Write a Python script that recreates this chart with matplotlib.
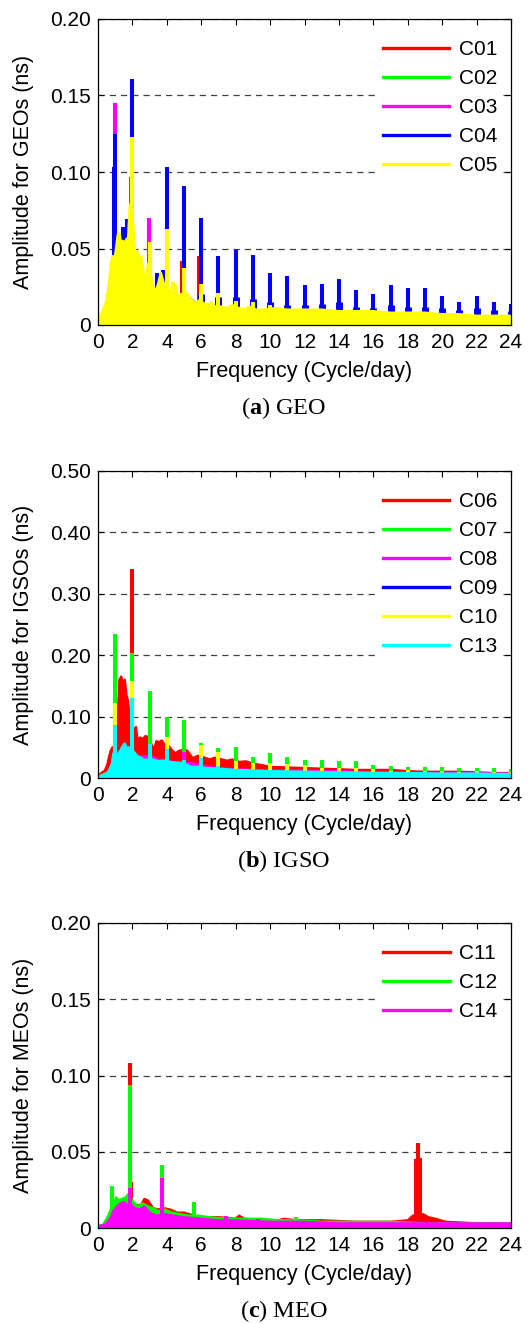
import numpy as np
import matplotlib
matplotlib.use("Agg")
import matplotlib.pyplot as plt
from matplotlib.lines import Line2D
from matplotlib.ticker import FuncFormatter

plt.rcParams['font.family'] = ['Liberation Sans', 'DejaVu Sans']
plt.rcParams['mathtext.fontset'] = 'custom'
plt.rcParams['mathtext.rm'] = 'Liberation Serif'
plt.rcParams['mathtext.bf'] = 'Liberation Serif:bold'

RED, GREEN, MAGENTA = '#ff0000', '#00ff00', '#ff00ff'
BLUE, YELLOW, CYAN = '#0000ff', '#ffff00', '#00ffff'

harm = [1, 2, 3, 4, 5, 6, 7, 8, 9, 10, 11, 12, 13, 14, 15, 16, 17, 18, 19, 20, 21, 22, 23, 24]

# ---------------- GEO (C01-C05) ----------------
# background (dense noise envelope) as (freq, amp); spikes as separate lists
c01_bg = [(0, 0.001), (0.5, 0.002), (1, 0.003), (2, 0.004), (3, 0.003), (5, 0.003),
          (8, 0.002), (12, 0.002), (16, 0.002), (20, 0.002), (24, 0.002)]
c01_pk_f = [4.88, 5.88]
c01_pk_a = [0.042, 0.045]

c02_bg = [(0, 0.001), (1, 0.002), (2, 0.003), (4, 0.002), (8, 0.002), (16, 0.001), (24, 0.001)]
c02_pk_f = [1.9, 2.0]
c02_pk_a = [0.007, 0.008]

c03_bg = [(0, 0.001), (0.5, 0.002), (1, 0.004), (2, 0.004), (3, 0.004), (4, 0.003),
          (6, 0.003), (10, 0.002), (16, 0.002), (24, 0.002)]
c03_pk_f = [0.98, 1.93, 2.95]
c03_pk_a = [0.145, 0.097, 0.070]

c04_bg = [(0, 0.002), (0.3, 0.006), (0.6, 0.015), (0.8, 0.022), (1.2, 0.035), (1.6, 0.045),
          (2.2, 0.040), (2.6, 0.030), (3.2, 0.024), (3.6, 0.020), (4.3, 0.022), (4.7, 0.016),
          (5.3, 0.018), (5.7, 0.014), (6.5, 0.012), (7.5, 0.010), (8.5, 0.009), (9.5, 0.008),
          (11, 0.007), (13, 0.007), (15, 0.006), (17, 0.006), (19, 0.006), (21, 0.005), (24, 0.005)]
c04_pk_f = [0.93, 1.0, 1.47, 1.7, 2.0, 3.0, 3.4, 3.78, 4.0, 5.0, 6.0, 7.0, 8.0, 9.0, 10, 11,
            12, 13, 14, 15, 16, 17, 18, 19, 20, 21, 22, 23, 24]
c04_pk_a = [0.103, 0.125, 0.064, 0.069, 0.161, 0.054, 0.034, 0.036, 0.103, 0.091, 0.070,
            0.045, 0.049, 0.046, 0.034, 0.032, 0.026, 0.027, 0.030, 0.023, 0.020, 0.026,
            0.024, 0.024, 0.019, 0.015, 0.019, 0.015, 0.014]
# wider base ("shoulders") of the C04 harmonics
c04_sh_f = [6, 7, 8, 9, 10, 11, 12, 13, 14, 15, 16, 17, 18, 19, 20, 21, 22, 23, 24]
c04_sh_a = [0.020, 0.018, 0.018, 0.017, 0.015, 0.013, 0.013, 0.014, 0.015, 0.012, 0.011,
            0.013, 0.012, 0.012, 0.011, 0.010, 0.011, 0.010, 0.009]

c05_bg = [(0, 0.002), (0.1, 0.005), (0.3, 0.010), (0.5, 0.016), (0.65, 0.028), (0.75, 0.040),
          (0.85, 0.045), (0.95, 0.042), (1.05, 0.050), (1.15, 0.059), (1.25, 0.060), (1.35, 0.052),
          (1.45, 0.055), (1.55, 0.053), (1.65, 0.056), (1.75, 0.057), (1.85, 0.078), (1.95, 0.080),
          (2.1, 0.056), (2.2, 0.043), (2.3, 0.048), (2.4, 0.040), (2.5, 0.045), (2.6, 0.038),
          (2.7, 0.030), (2.8, 0.028), (2.9, 0.040), (3.1, 0.030), (3.2, 0.025), (3.35, 0.022),
          (3.5, 0.027), (3.65, 0.034), (3.8, 0.028), (3.9, 0.024), (4.1, 0.022), (4.2, 0.020),
          (4.35, 0.028), (4.5, 0.026), (4.65, 0.018), (4.8, 0.020), (5.15, 0.021), (5.3, 0.018),
          (5.5, 0.016), (5.7, 0.014), (5.85, 0.016), (6.2, 0.014), (6.4, 0.013), (6.6, 0.015),
          (6.8, 0.012), (7.2, 0.012), (7.5, 0.011), (7.8, 0.013), (8.2, 0.011), (8.5, 0.010),
          (8.8, 0.012), (9.2, 0.010), (9.6, 0.010), (10.3, 0.011), (11, 0.010), (12, 0.010),
          (13, 0.010), (14, 0.009), (15, 0.009), (16, 0.009), (17, 0.008), (18, 0.008),
          (19, 0.008), (20, 0.007), (21, 0.007), (22, 0.006), (23, 0.006), (24, 0.006)]
c05_pk_f = [2.0, 3.0, 4.0, 5.0, 6.0, 7.0, 8.0, 9.0, 10.0]
c05_pk_a = [0.123, 0.054, 0.063, 0.037, 0.027, 0.021, 0.016, 0.015, 0.013]

# ---------------- IGSO (C06-C10, C13) ----------------
c06_bg = [(0, 0.003), (0.2, 0.008), (0.4, 0.012), (0.55, 0.022), (0.65, 0.035), (0.75, 0.045),
          (0.85, 0.050), (0.95, 0.048), (1.05, 0.060), (1.15, 0.100), (1.25, 0.160), (1.35, 0.165),
          (1.45, 0.150), (1.55, 0.160), (1.65, 0.135), (1.75, 0.125), (1.85, 0.090), (1.95, 0.075),
          (2.1, 0.075), (2.2, 0.083), (2.3, 0.060), (2.45, 0.066), (2.6, 0.063), (2.75, 0.068),
          (2.9, 0.067), (3.1, 0.055), (3.25, 0.045), (3.4, 0.060), (3.55, 0.058), (3.7, 0.061),
          (3.85, 0.055), (4.1, 0.052), (4.3, 0.045), (4.5, 0.040), (4.7, 0.044), (4.85, 0.045),
          (5.15, 0.045), (5.3, 0.040), (5.5, 0.032), (5.8, 0.036), (6.2, 0.033), (6.5, 0.030),
          (6.8, 0.033), (7.2, 0.030), (7.5, 0.028), (7.8, 0.030), (8.2, 0.026), (8.6, 0.027),
          (9.0, 0.023), (9.5, 0.021), (10, 0.018), (11, 0.017), (12, 0.016), (13, 0.015),
          (14, 0.014), (15, 0.013), (16, 0.013), (17, 0.013), (18, 0.011), (19, 0.010),
          (20, 0.010), (21, 0.010), (22, 0.009), (23, 0.008), (24, 0.008)]
c06_pk_f = [2.0]
c06_pk_a = [0.340]

c07_bg = [(0, 0.002), (0.5, 0.008), (1.5, 0.020), (2.5, 0.022), (4, 0.020), (6, 0.015),
          (10, 0.010), (16, 0.008), (24, 0.007)]
c07_pk_f = harm
c07_pk_a = [0.235, 0.204, 0.141, 0.100, 0.094, 0.057, 0.049, 0.051, 0.035, 0.040, 0.035,
            0.029, 0.029, 0.027, 0.027, 0.021, 0.019, 0.018, 0.018, 0.018, 0.017, 0.016,
            0.017, 0.014]

c08_bg = [(0, 0.002), (0.5, 0.005), (0.8, 0.018), (1.2, 0.035), (1.5, 0.045), (1.8, 0.050),
          (2.2, 0.036), (2.6, 0.035), (3.0, 0.036), (3.5, 0.030), (4.2, 0.027), (4.6, 0.024),
          (5.5, 0.024), (6.0, 0.020), (7, 0.016), (8, 0.014), (10, 0.012), (12, 0.012),
          (14, 0.011), (16, 0.009), (18, 0.008), (20, 0.008), (22, 0.008), (24, 0.007)]
c08_pk_f = [5.0]
c08_pk_a = [0.043]

c09_bg = [(0, 0.001), (1, 0.003), (2, 0.004), (4, 0.003), (8, 0.002), (16, 0.002), (24, 0.002)]
c09_pk_f = [1.0, 2.0]
c09_pk_a = [0.005, 0.006]

c10_bg = [(0, 0.002), (0.5, 0.006), (1, 0.015), (2, 0.020), (3, 0.018), (5, 0.012),
          (8, 0.008), (12, 0.007), (18, 0.006), (24, 0.005)]
c10_pk_f = harm
c10_pk_a = [0.122, 0.158, 0.050, 0.067, 0.030, 0.054, 0.043, 0.027, 0.025, 0.024, 0.022,
            0.021, 0.016, 0.016, 0.016, 0.014, 0.012, 0.013, 0.012, 0.011, 0.010, 0.011,
            0.010, 0.009]

c13_bg = [(0, 0.002), (0.3, 0.004), (0.6, 0.010), (0.8, 0.022), (0.9, 0.040), (1.1, 0.038),
          (1.25, 0.042), (1.4, 0.050), (1.55, 0.056), (1.7, 0.048), (1.85, 0.050), (2.1, 0.042),
          (2.3, 0.035), (2.5, 0.033), (2.7, 0.029), (2.9, 0.030), (3.2, 0.030), (3.5, 0.027),
          (3.8, 0.028), (4.2, 0.026), (4.6, 0.025), (5.0, 0.024), (5.4, 0.018), (5.8, 0.018),
          (6.3, 0.016), (7, 0.015), (8, 0.013), (9, 0.012), (10, 0.011), (12, 0.010),
          (14, 0.009), (16, 0.008), (18, 0.008), (20, 0.007), (22, 0.007), (24, 0.006)]
c13_pk_f = [1, 2, 3, 4, 5, 6, 7]
c13_pk_a = [0.086, 0.130, 0.055, 0.047, 0.030, 0.032, 0.020]

# ---------------- MEO (C11, C12, C14) ----------------
c11_bg = [(0, 0.001), (0.3, 0.002), (0.6, 0.006), (0.9, 0.012), (1.2, 0.014), (1.5, 0.016),
          (1.8, 0.020), (2.0, 0.017), (2.2, 0.015), (2.5, 0.015), (2.7, 0.019), (2.9, 0.018),
          (3.2, 0.013), (3.5, 0.012), (3.8, 0.013), (4.2, 0.012), (4.6, 0.010), (5.0, 0.010),
          (5.6, 0.008), (6.2, 0.007), (7.0, 0.007), (8.0, 0.006), (8.2, 0.008), (8.5, 0.006),
          (9.5, 0.005), (10.5, 0.005), (10.8, 0.006), (11.5, 0.005), (13, 0.005), (15, 0.004),
          (17, 0.004), (18.0, 0.005), (18.3, 0.008), (18.9, 0.009), (19.2, 0.007), (19.6, 0.006),
          (20.2, 0.004), (22, 0.003), (24, 0.003)]
c11_pk_f = [1.86, 1.93, 18.5, 18.6, 18.7]
c11_pk_a = [0.108, 0.030, 0.045, 0.0555, 0.046]

c12_bg = [(0, 0.001), (0.3, 0.002), (0.6, 0.008), (0.75, 0.012), (0.9, 0.015), (1.05, 0.020),
          (1.2, 0.018), (1.4, 0.019), (1.6, 0.020), (1.75, 0.022), (2.0, 0.018), (2.3, 0.014),
          (2.6, 0.016), (2.9, 0.014), (3.2, 0.013), (3.5, 0.011), (3.9, 0.012), (4.3, 0.010),
          (4.8, 0.009), (5.3, 0.008), (5.8, 0.008), (6.5, 0.007), (7.5, 0.006), (8.5, 0.006),
          (9.5, 0.006), (10.5, 0.005), (11.5, 0.005), (13, 0.004), (15, 0.004), (17, 0.004),
          (19, 0.003), (21, 0.003), (24, 0.003)]
c12_pk_f = [0.8, 1.86, 3.72, 5.58, 11.5]
c12_pk_a = [0.0275, 0.094, 0.041, 0.017, 0.007]

c14_bg = [(0, 0.001), (0.4, 0.002), (0.7, 0.006), (0.9, 0.011), (1.1, 0.014), (1.3, 0.016),
          (1.5, 0.017), (1.7, 0.015), (1.9, 0.016), (2.1, 0.013), (2.4, 0.012), (2.7, 0.014),
          (3.0, 0.010), (3.4, 0.008), (3.9, 0.009), (4.4, 0.008), (5, 0.007), (6, 0.006),
          (7, 0.005), (8, 0.005), (10, 0.004), (12, 0.004), (14, 0.003), (16, 0.003),
          (18, 0.003), (20, 0.003), (22, 0.003), (24, 0.003)]
c14_pk_f = [1.86, 3.72, 7.44, 9.3]
c14_pk_a = [0.026, 0.0326, 0.008, 0.006]


def draw_sat(ax, bg, pk_f, pk_a, color, z):
    bg = np.array(bg)
    ax.fill_between(bg[:, 0], 0, bg[:, 1], color=color, lw=0, zorder=z)
    ax.plot(bg[:, 0], bg[:, 1], color=color, lw=1.8, zorder=z)
    ax.vlines(pk_f, 0, pk_a, color=color, lw=2.9, zorder=z)


def style_axes(ax, ymax, ystep, ylabel, names, colors):
    ax.set_xlim(0, 24)
    ax.set_ylim(0, ymax)
    ax.set_xticks(np.arange(0, 25, 2))
    ax.set_yticks(np.arange(0, ymax + 1e-9, ystep))
    ax.yaxis.set_major_formatter(FuncFormatter(lambda v, _: '0' if abs(v) < 1e-9 else f'{v:.2f}'))
    ax.tick_params(direction='in', top=True, right=True, length=4, width=0.8, labelsize=15)
    ax.tick_params(axis='x', pad=6)
    ax.tick_params(axis='y', pad=5)
    ax.yaxis.grid(True, linestyle=(0, (5, 4)), color='#404040', lw=0.9)
    ax.set_axisbelow(True)
    for s in ax.spines.values():
        s.set_linewidth(0.9)
    ax.set_xlabel('Frequency (Cycle/day)', fontsize=15.5)
    ax.set_ylabel(ylabel, fontsize=15.5)
    ax.xaxis.set_label_coords(0.5, -0.118)
    ax.yaxis.set_label_coords(-0.155, 0.5)
    handles = [Line2D([], [], color=c, lw=2.4) for c in colors]
    ax.legend(handles, names, loc='upper right', bbox_to_anchor=(1.007, 0.985),
              fontsize=15, handlelength=3.2, handletextpad=0.45, labelspacing=0.48,
              borderpad=0.3, frameon=True, fancybox=False, edgecolor='none',
              facecolor='white', framealpha=1)


fig = plt.figure(figsize=(5.28, 13.24), dpi=100)

# panel a - GEO
ax1 = fig.add_axes([98 / 528, 1 - 325 / 1324, 413 / 528, 306 / 1324])
draw_sat(ax1, c01_bg, c01_pk_f, c01_pk_a, RED, 2.0)
draw_sat(ax1, c02_bg, c02_pk_f, c02_pk_a, GREEN, 2.1)
draw_sat(ax1, c03_bg, c03_pk_f, c03_pk_a, MAGENTA, 2.2)
draw_sat(ax1, c04_bg, c04_pk_f, c04_pk_a, BLUE, 2.3)
ax1.vlines(c04_sh_f, 0, c04_sh_a, color=BLUE, lw=5, zorder=2.3)
draw_sat(ax1, c05_bg, c05_pk_f, c05_pk_a, YELLOW, 2.4)
style_axes(ax1, 0.20, 0.05, 'Amplitude for GEOs (ns)',
           ['C01', 'C02', 'C03', 'C04', 'C05'], [RED, GREEN, MAGENTA, BLUE, YELLOW])

# panel b - IGSO
ax2 = fig.add_axes([98 / 528, 1 - 778 / 1324, 413 / 528, 307 / 1324])
draw_sat(ax2, c06_bg, c06_pk_f, c06_pk_a, RED, 2.0)
draw_sat(ax2, c07_bg, c07_pk_f, c07_pk_a, GREEN, 2.1)
draw_sat(ax2, c08_bg, c08_pk_f, c08_pk_a, MAGENTA, 2.2)
draw_sat(ax2, c09_bg, c09_pk_f, c09_pk_a, BLUE, 2.3)
draw_sat(ax2, c10_bg, c10_pk_f, c10_pk_a, YELLOW, 2.4)
draw_sat(ax2, c13_bg, c13_pk_f, c13_pk_a, CYAN, 2.5)
style_axes(ax2, 0.50, 0.10, 'Amplitude for IGSOs (ns)',
           ['C06', 'C07', 'C08', 'C09', 'C10', 'C13'], [RED, GREEN, MAGENTA, BLUE, YELLOW, CYAN])

# panel c - MEO
ax3 = fig.add_axes([98 / 528, 1 - 1228 / 1324, 413 / 528, 305 / 1324])
draw_sat(ax3, c11_bg, c11_pk_f, c11_pk_a, RED, 2.0)
draw_sat(ax3, c12_bg, c12_pk_f, c12_pk_a, GREEN, 2.1)
draw_sat(ax3, c14_bg, c14_pk_f, c14_pk_a, MAGENTA, 2.2)
style_axes(ax3, 0.20, 0.05, 'Amplitude for MEOs (ns)',
           ['C11', 'C12', 'C14'], [RED, GREEN, MAGENTA])

# captions
for ypx, txt in [(408, r'($\mathbf{a}$) GEO'), (861, r'($\mathbf{b}$) IGSO'), (1311, r'($\mathbf{c}$) MEO')]:
    fig.text(284 / 528, 1 - ypx / 1324, txt, ha='center', va='center', fontsize=17.5,
             family='Liberation Serif')

fig.savefig('out.png', dpi=100)
